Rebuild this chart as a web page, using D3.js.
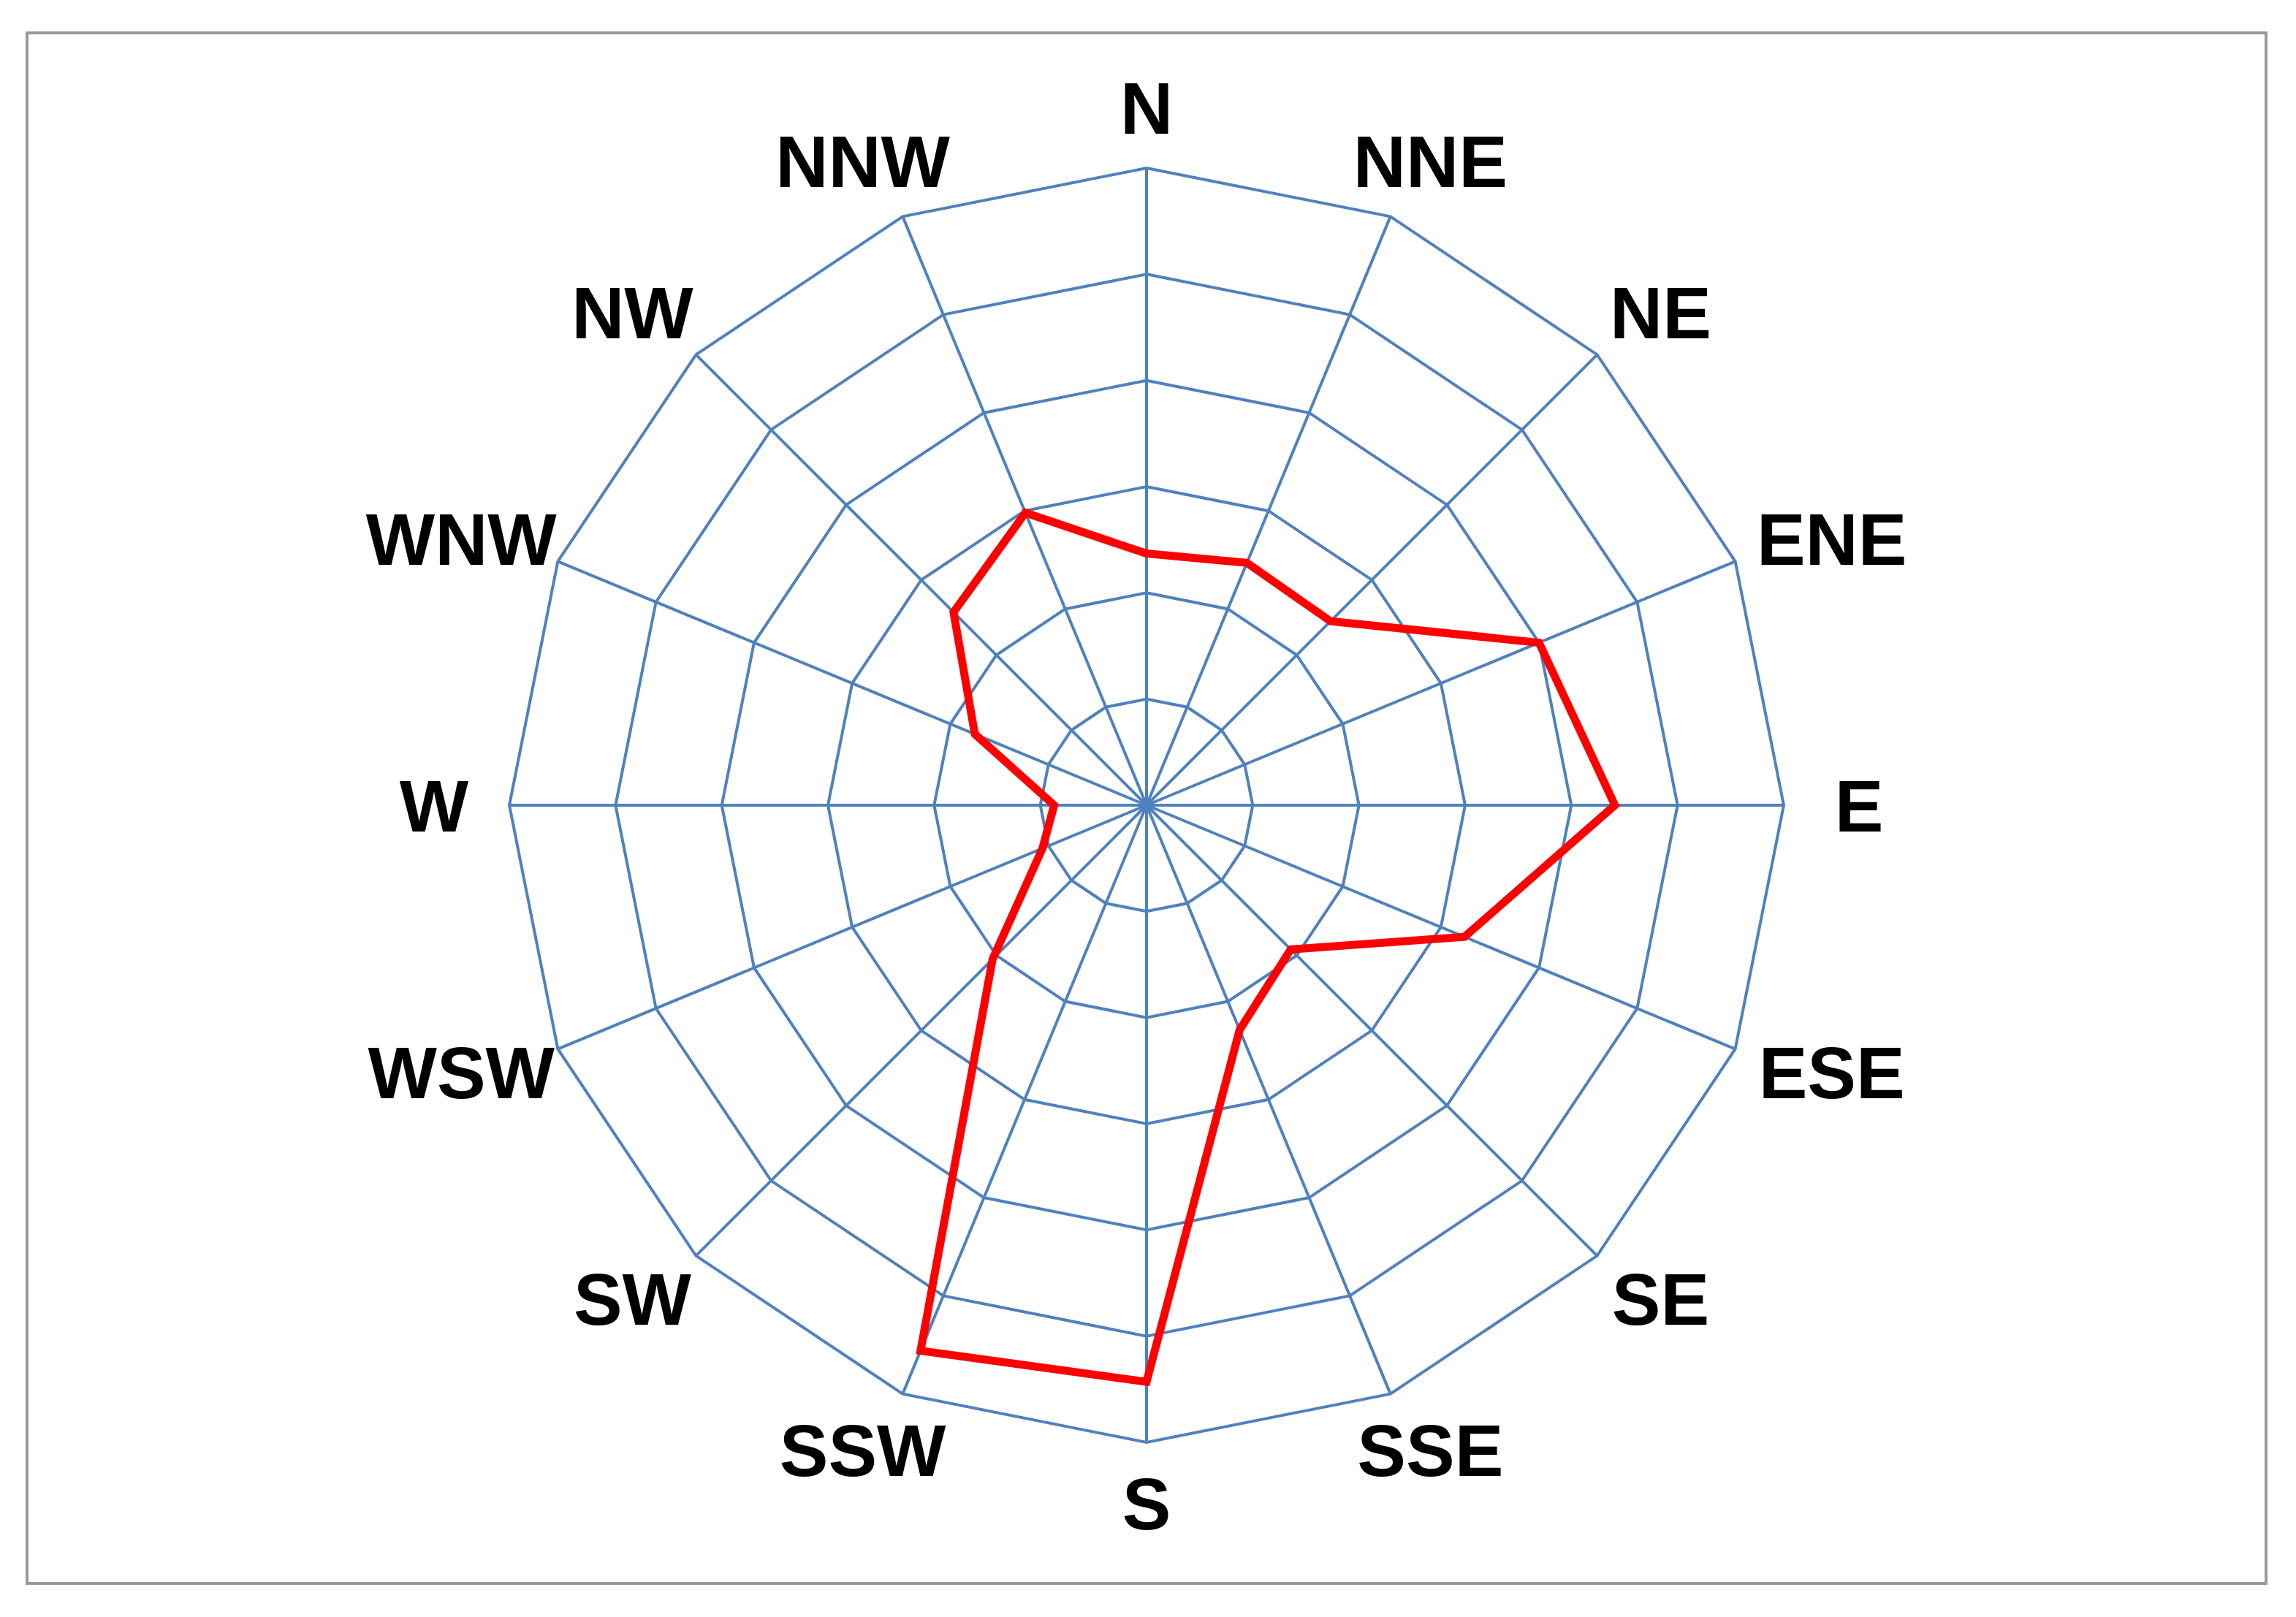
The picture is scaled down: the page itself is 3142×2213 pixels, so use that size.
<!DOCTYPE html>
<html><head><meta charset="utf-8">
<script src="https://cdn.jsdelivr.net/npm/d3@7"></script>
<style>body{margin:0;background:#fff}</style>
</head><body>
<script>
const directions = ["N","NNE","NE","ENE","E","ESE","SE","SSE","S","SSW","SW","WSW","W","WNW","NW","NNW"];
const values = [2.37,2.47,2.45,4.0,4.41,3.24,1.92,2.29,5.43,5.56,2.05,1.06,0.87,1.75,2.57,2.98];
const ringTicks = [1,2,3,4,5,6];

const W = 3142, H = 2213, cx = 1569, cy = 1102, R = 872;
const svg = d3.select("body").append("svg").attr("width", W).attr("height", H);
svg.append("rect").attr("x",37).attr("y",45).attr("width",3064).attr("height",2122)
  .attr("fill","#fff").attr("stroke","#999").attr("stroke-width",4);
const g = svg.append("g").attr("transform",`translate(${cx},${cy})`);
const r = d3.scaleLinear().domain([0,6]).range([0,R]);
const ang = d3.scaleBand().domain(directions).range([0,2*Math.PI]);
const a = d => ang(d);
const pt = (d,v) => [r(v)*Math.sin(a(d)), -r(v)*Math.cos(a(d))];

ringTicks.forEach(t => {
  g.append("path").attr("d", d3.line()(directions.map(d=>pt(d,t))) + "Z")
    .attr("fill","none").attr("stroke","#4f81bd").attr("stroke-width",4);
});
directions.forEach(d => {
  const p = pt(d,6);
  g.append("line").attr("x1",0).attr("y1",0).attr("x2",p[0]).attr("y2",p[1])
    .attr("stroke","#4f81bd").attr("stroke-width",4);
  const lr = 955, aa = a(d), s = Math.sin(aa);
  g.append("text").attr("x", lr*s + (Math.abs(s)>0.3 ? Math.sign(s)*Math.abs(s)*d.length*20 : 0))
    .attr("y", -lr*Math.cos(aa)).attr("dy","0.36em").attr("text-anchor","middle")
    .attr("font-family","Liberation Sans, Arial, sans-serif").attr("font-weight","bold")
    .attr("font-size",100).attr("fill","#000").text(d);
});
g.append("path").attr("d", d3.line()(directions.map((d,i)=>pt(d,values[i]))) + "Z")
  .attr("fill","none").attr("stroke","#ff0000").attr("stroke-width",11).attr("stroke-linejoin","miter");
</script>
</body></html>
